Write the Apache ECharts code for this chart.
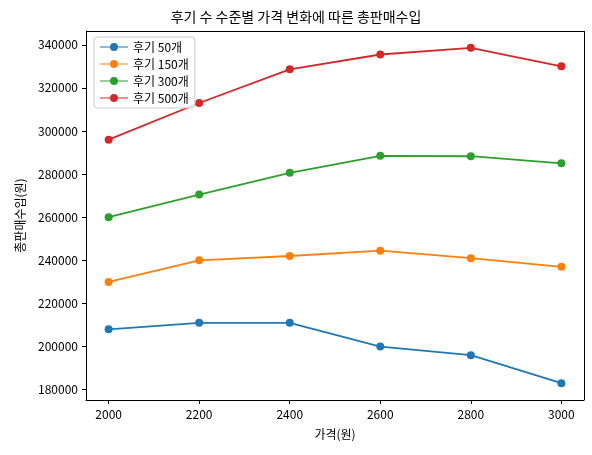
<!DOCTYPE html>
<html><head><meta charset="utf-8">
<script src="https://cdn.jsdelivr.net/npm/echarts@6/dist/echarts.min.js"></script>
<style>html,body{margin:0;padding:0;background:#fff}#c{width:592px;height:455px}</style>
</head><body><div id="c"></div>
<script>
const prices = [2000, 2200, 2400, 2600, 2800, 3000];
const rev50 = [208000, 211000, 211000, 200000, 196000, 183000];
const rev150 = [230000, 240000, 242000, 244500, 241000, 237000];
const rev300 = [260000, 270500, 280600, 288500, 288300, 285000];
const rev500 = [296000, 313000, 328600, 335500, 338600, 330000];
const xTicks = [2000, 2200, 2400, 2600, 2800, 3000];
const yTicks = [180000, 200000, 220000, 240000, 260000, 280000, 300000, 320000, 340000];
const names = ['후기 50개', '후기 150개', '후기 300개', '후기 500개'];
const colors = ['#1f77b4', '#ff7f0e', '#2ca02c', '#d62728'];
const all = [rev50, rev150, rev300, rev500];
const font = 'Noto Sans CJK KR';
const icon = 'path://M0,4.4L28,4.4L28,5.6L0,5.6Z M14,1A4,4 0 1 1 14,9A4,4 0 1 1 14,1Z';
const chart = echarts.init(document.getElementById('c'));
chart.setOption({
  animation: false,
  textStyle: {fontFamily: font},
  title: {text: '후기 수 수준별 가격 변화에 따른 총판매수입', left: 'center', top: 5,
    textStyle: {fontSize: 14, fontWeight: 'normal', color: '#000', fontFamily: font}},
  legend: {left: 94, top: 37, orient: 'vertical', itemGap: 5, itemWidth: 28, itemHeight: 10,
    backgroundColor: 'rgba(255,255,255,0.8)', borderColor: '#ccc', borderWidth: 1, borderRadius: 3, padding: [4, 6],
    textStyle: {fontSize: 12, color: '#000', fontFamily: font},
    data: names.map(n => ({name: n, icon: icon}))},
  grid: {left: 86, right: 8, top: 31, bottom: 55},
  xAxis: {type: 'value', min: 1950, max: 3050, name: '가격(원)', nameLocation: 'middle', nameGap: 28,
    nameTextStyle: {fontSize: 12, color: '#000'},
    axisLine: {show: true, onZero: false, lineStyle: {color: '#000'}},
    axisTick: {show: true, customValues: xTicks, length: 4, lineStyle: {color: '#000'}},
    axisLabel: {customValues: xTicks, color: '#000', fontSize: 12, formatter: v => String(v)},
    splitLine: {show: false}},
  yAxis: {type: 'value', min: 175200, max: 346400, name: '총판매수입(원)', nameLocation: 'middle', nameGap: 60,
    nameTextStyle: {fontSize: 12, color: '#000'},
    axisLine: {show: true, lineStyle: {color: '#000'}},
    axisTick: {show: true, customValues: yTicks, length: 4, lineStyle: {color: '#000'}},
    axisLabel: {customValues: yTicks, color: '#000', fontSize: 12, formatter: v => String(v)},
    splitLine: {show: false}},
  series: all.map((d, i) => ({
    name: names[i], type: 'line', data: prices.map((p, j) => [p, d[j]]),
    symbol: 'circle', symbolSize: 8, color: colors[i],
    lineStyle: {width: 1.8, color: colors[i]}, itemStyle: {color: colors[i]}, z: 2
  })).concat([{type: 'line', data: [], markLine: {silent: true, symbol: 'none', label: {show: false},
    lineStyle: {color: '#000', type: 'solid', width: 1},
    data: [{xAxis: 3050}, {yAxis: 346400}]}}])
});
</script></body></html>
